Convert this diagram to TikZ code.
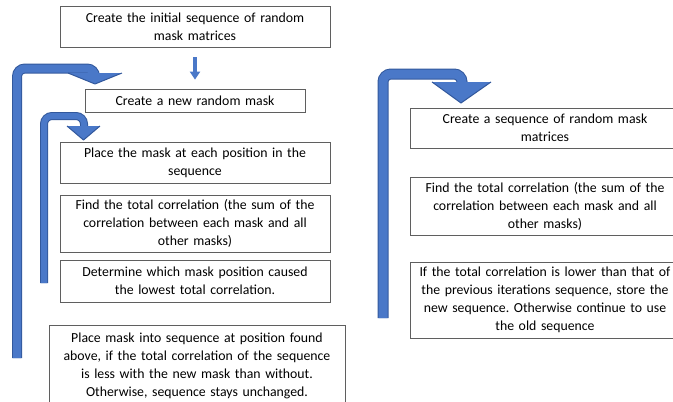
\documentclass[tikz,border=0pt]{standalone}
\usepackage{fontspec}
\setmainfont{Carlito}
\usetikzlibrary{arrows.meta}
\definecolor{loopblue}{RGB}{74,120,200}
\definecolor{loopdark}{RGB}{50,88,156}
\definecolor{boxline}{RGB}{95,95,95}
\frenchspacing

\begin{document}
\begin{tikzpicture}[x=1pt, y=-1pt,
	box/.style={draw=boxline, line width=0.8pt, rectangle, align=center, text width=268pt, minimum width=270pt, inner sep=0pt, font=\fontsize{13.8}{18}\selectfont},
	loopbar/.style={draw=loopdark, line width=1pt, double=loopblue, double distance=#1, rounded corners=8pt},
	loophead/.style={fill=loopblue, draw=loopdark, line width=1pt, line join=round},
	blockarrow/.style={draw=loopblue, line width=4pt, -{Triangle[width=10pt,length=8pt]}, shorten <=10pt, shorten >=9pt}]
				\useasboundingbox (0,0) rectangle (673,402);
				% left column
				\node[box, minimum height=41pt] (I) at (195,26.5) {Create the initial sequence of random\\mask matrices};
				\node[box, text width=218pt, minimum width=220pt, minimum height=23pt] (N) at (195,100.5) {Create a new random mask};
				\node[box, minimum height=41pt] (P) at (195,162.5) {Place the mask at each position in the\\sequence};
				\node[box, minimum height=57pt] (F) at (195,223.5) {Find the total correlation (the sum of the\\correlation between each mask and all\\other masks)};
				\node[box, minimum height=42pt] (D) at (195,281) {Determine which mask position caused\\the lowest total correlation.};
				\node[box, text width=294pt, minimum width=296pt, minimum height=82pt] (S) at (197,366) {Place mask into sequence at position found\\above, if the total correlation of the sequence\\is less with the new mask than without.\\Otherwise, sequence stays unchanged.};
				% right column
				\node[box, minimum height=40pt] (RC) at (545,128) {Create a sequence of random mask\\matrices};
				\node[box, minimum height=58pt] (RF) at (545,206) {Find the total correlation (the sum of the\\correlation between each mask and all\\other masks)};
				\node[box, minimum height=76pt] (RI) at (545,300) {If the total correlation is lower than that of\\the previous iterations sequence, store the\\new sequence. Otherwise continue to use\\the old sequence};
				% arrows
				\draw[blockarrow] (I) -- (N);
				\coordinate (OL) at (17,358);
				\coordinate (OT) at (17,68.5);
				\coordinate (OR) at (95,68.5);
				\coordinate (OH) at (95,80);
				\draw[loopbar=8pt] (OL) -- (OT) -- (OR) -- (OH);
				\filldraw[loophead] (68,73) -- (95,84) -- (122,73);
				\coordinate (PL) at (44,283);
				\coordinate (PT) at (44,116);
				\coordinate (PR) at (84,116);
				\coordinate (PH) at (84,134);
				\draw[loopbar=6pt] (PL) -- (PT) -- (PR) -- (PH);
				\filldraw[loophead] (67,126) -- (83.5,140) -- (100,126);
				\coordinate (RL) at (383,318);
				\coordinate (RT) at (383,74);
				\coordinate (RR) at (462,74);
				\coordinate (RH) at (462,95);
				\draw[loopbar=9pt] (RL) -- (RT) -- (RR) -- (RH);
				\filldraw[loophead] (432,82) -- (461,103) -- (491,82);
			\end{tikzpicture}
\end{document}
